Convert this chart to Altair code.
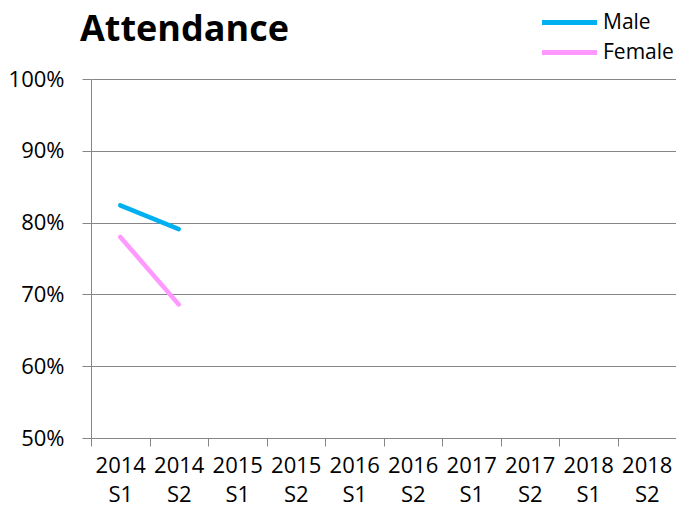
import altair as alt
import pandas as pd

title_text = ["Attendance"]
periods = ["2014 S1", "2014 S2", "2015 S1", "2015 S2", "2016 S1",
           "2016 S2", "2017 S1", "2017 S2", "2018 S1", "2018 S2"]
male = [0.824, 0.791, None, None, None, None, None, None, None, None]
female = [0.780, 0.686, None, None, None, None, None, None, None, None]
series = ["Male", "Female"]
colors = ["#00B0F0", "#FF99FF"]
y_ticks = [0.5, 0.6, 0.7, 0.8, 0.9, 1.0]

rows = []
for name, vals in zip(series, [male, female]):
    for p, v in zip(periods, vals):
        rows.append({"Period": p, "Gender": name, "Attendance": v})
df = pd.DataFrame(rows)
df_title = pd.DataFrame({"t": title_text})

FONT = "Open Sans"
GRAY = "#868686"

lines = alt.Chart(df).mark_line(strokeWidth=4.5, strokeCap="round").encode(
    x=alt.X("Period:N", sort=periods,
            scale=alt.Scale(domain=periods, paddingInner=0, paddingOuter=0),
            axis=alt.Axis(title=None, labelAngle=0, tickBand="extent",
                          labelExpr="split(datum.label, ' ')",
                          labelLineHeight=29, labelPadding=9, tickSize=8,
                          labelFontSize=22, labelColor="black", labelFont=FONT,
                          domain=False, grid=False, tickColor=GRAY,
                          labelBaseline="top")),
    y=alt.Y("Attendance:Q",
            scale=alt.Scale(domain=[0.5, 1.0], nice=False, zero=False),
            axis=alt.Axis(title=None, format=".0%", values=y_ticks,
                          grid=True, gridColor=GRAY, domainColor=GRAY,
                          tickColor=GRAY, tickSize=9, labelPadding=18,
                          labelFontSize=22, labelColor="black", labelFont=FONT)),
    color=alt.Color("Gender:N", sort=series,
                    scale=alt.Scale(domain=series, range=colors),
                    legend=alt.Legend(title=None, orient="none",
                                      legendX=462, legendY=-73,
                                      symbolType="M-2,0L2,0", symbolSize=756,
                                      symbolStrokeWidth=5, labelFontSize=21,
                                      labelFont=FONT, labelColor="black",
                                      labelOffset=17, padding=0, rowPadding=3)),
)

title = alt.Chart(df_title).mark_text(
    align="left", baseline="alphabetic", fontSize=36, fontWeight="bold",
    font=FONT, color="black"
).encode(
    text="t:N",
    x=alt.value(-11),
    y=alt.value(-38),
)

chart = alt.layer(lines, title).properties(
    width=585,
    height=359,
    autosize=alt.AutoSizeParams(type="none"),
    padding={"left": 83, "top": 71, "right": 0, "bottom": 68},
).configure_view(stroke=None)

chart.save("out.html", embed_options={"renderer": "svg", "actions": False})
